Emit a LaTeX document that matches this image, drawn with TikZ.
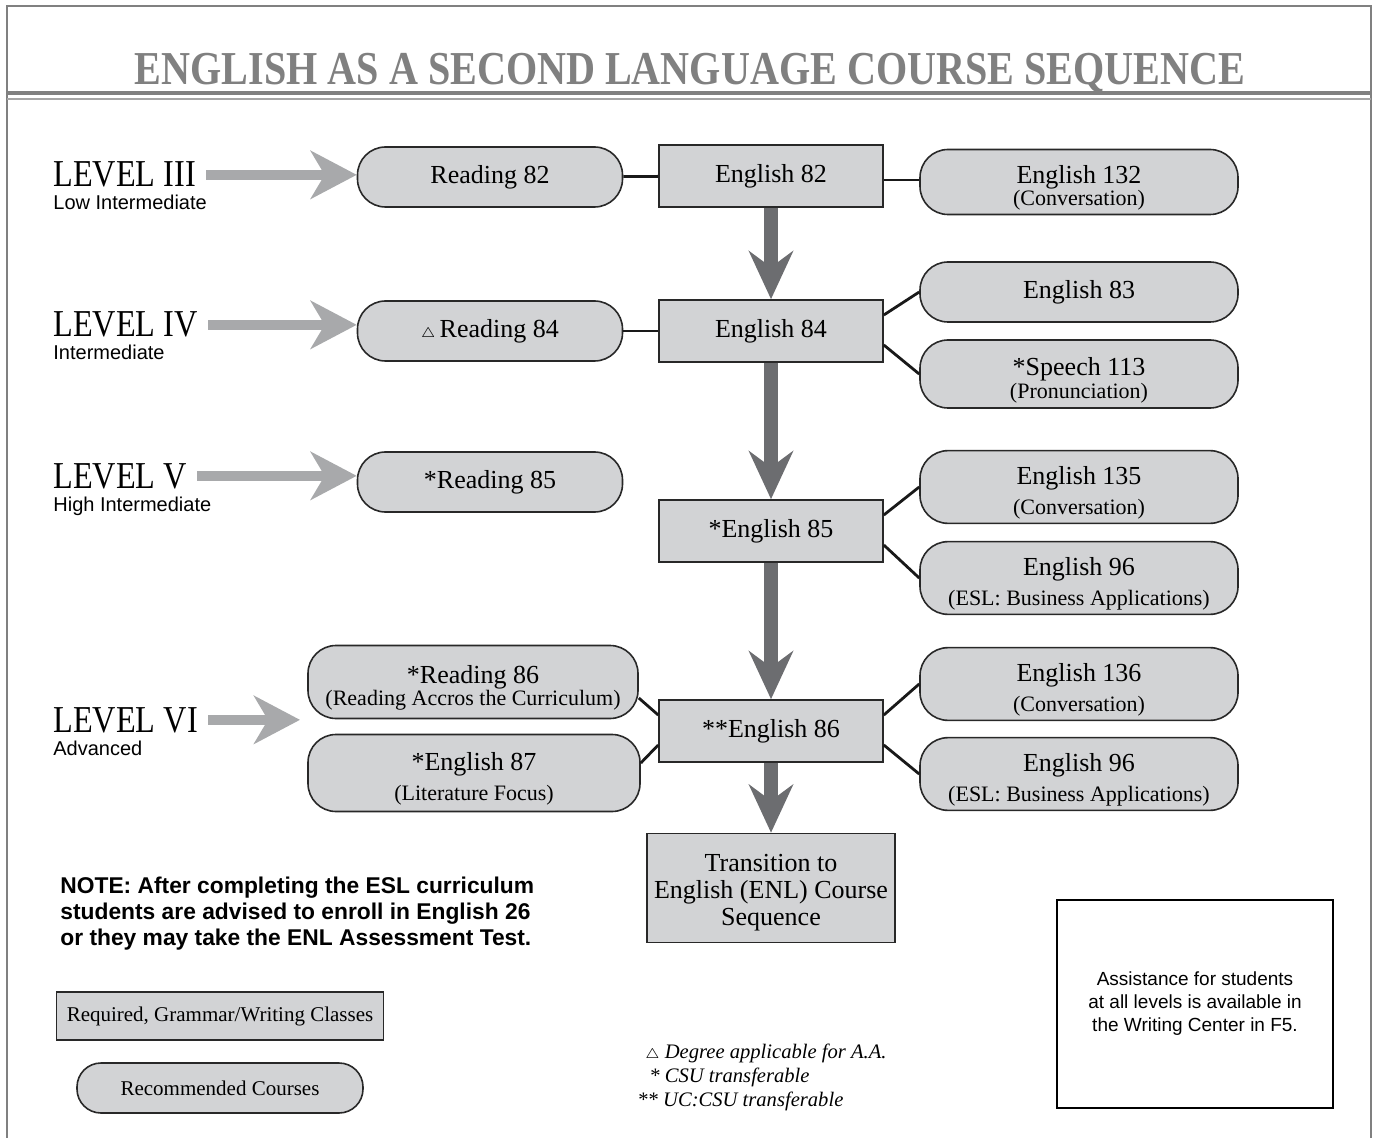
\documentclass[tikz,border=0pt]{standalone}
\usepackage{fontspec}
\setmainfont{Liberation Serif}
\setsansfont{Liberation Sans}
\newfontfamily\narrowserif[FakeStretch=0.85]{Liberation Serif}
\usepackage{tikz}
\usetikzlibrary{arrows.meta}
\usetikzlibrary{positioning}
\definecolor{boxfill}{RGB}{210,211,213}
\definecolor{boxline}{RGB}{40,40,40}
\definecolor{framegray}{RGB}{128,128,128}
\definecolor{rulegray}{RGB}{165,165,165}
\definecolor{flowgray}{RGB}{108,109,112}
\definecolor{levelgray}{RGB}{168,169,171}
\tikzstyle{required}=[rectangle, draw=boxline, fill=boxfill, line width=.8pt, align=center, inner sep=2pt, minimum width=112pt, minimum height=31pt, font=\fontsize{13}{15}\selectfont]
\tikzstyle{recommended}=[required, rounded corners=14pt, minimum width=159pt, minimum height=33pt]
\tikzstyle{levelname}=[inner sep=0pt, anchor=base west, font=\narrowserif\fontsize{19}{20}\selectfont]
\tikzstyle{levelsub}=[inner sep=0pt, anchor=base west, font=\sffamily\fontsize{10}{12}\selectfont]
\tikzstyle{levelarrow}=[levelgray, line width=5pt, shorten <=5pt, -{Stealth[length=23pt, width=24pt, inset=7pt]}]
\tikzstyle{flowarrow}=[flowgray, line width=7pt, -{Stealth[length=24pt, width=22pt, inset=8pt]}]
\tikzstyle{link}=[line width=1.4pt, black!90]
\newcommand{\coursenote}[1]{{\fontsize{11}{13}\selectfont #1}}
\newcommand{\degmark}{{\fontsize{7}{7}\selectfont$\triangle$}}
\newcommand{\lowertext}{\rule{0pt}{15pt}}

\begin{document}
\begin{tikzpicture}[x=0.5pt, y=-0.5pt]
    \useasboundingbox (0,0) rectangle (1374,1138);
    \draw[framegray, line width=1.1pt] (7,1138) -- (7,6) -- (1371,6) -- (1371,1138);
    \draw[framegray, line width=1.6pt] (7,93) -- (1371,93);
    \draw[rulegray, line width=.8pt] (7,99) -- (1371,99);
    \node[framegray, inner sep=0pt, anchor=base, font=\narrowserif\bfseries\fontsize{23.6}{25}\selectfont] (title) at (690,85) {ENGLISH AS A SECOND LANGUAGE COURSE SEQUENCE};

    \node[levelname] (lvlthree) at (53,187) {LEVEL III};
    \node[levelsub] (lvlthreesub) at (53,210) {Low Intermediate};
    \node[levelname] (lvlfour) at (53,337) {LEVEL IV};
    \node[levelsub] (lvlfoursub) at (53,360) {Intermediate};
    \node[levelname] (lvlfive) at (53,488) {LEVEL V};
    \node[levelsub] (lvlfivesub) at (53,511) {High Intermediate};
    \node[levelname] (lvlsix) at (53,732) {LEVEL VI};
    \node[levelsub] (lvlsixsub) at (53,755) {Advanced};
    \coordinate (lvlsixend) at (300,722);

    \node[recommended, minimum width=132.5pt, minimum height=30pt] (read82) at (490,177) {Reading 82};
    \node[recommended, minimum width=132.5pt, minimum height=30pt] (read84) at (490,331) {\degmark\,Reading 84};
    \node[recommended, minimum width=132.5pt, minimum height=30pt] (read85) at (490,482) {*Reading 85};
    \node[recommended, minimum width=165pt, minimum height=36.5pt] (read86) at (473,682) {\lowertext*Reading 86\\[-4pt]\coursenote{(Reading Accros the Curriculum)}};
    \node[recommended, minimum width=166pt, minimum height=38.5pt] (eng87) at (474,773) {\lowertext*English 87\\\coursenote{(Literature Focus)}};

    \node[required] (eng82) at (771,176) {English 82};
    \node[required] (eng84) at (771,331) {English 84};
    \node[required] (eng85) at (771,531) {*English 85};
    \node[required] (eng86) at (771,731) {**English 86};
    \node[required, minimum width=124pt, minimum height=54.5pt, font=\fontsize{13}{13.5}\selectfont] (transition) at (771,888) {\rule{0pt}{13pt}Transition to\\English (ENL) Course\\Sequence};

    \node[recommended, minimum height=32.5pt] (eng132) at (1079,182) {\lowertext English 132\\[-4pt]\coursenote{(Conversation)}};
    \node[recommended, minimum height=30pt] (eng83) at (1079,292) {English 83};
    \node[recommended, minimum height=34pt] (speech113) at (1079,374) {\lowertext*Speech 113\\[-3.5pt]\coursenote{(Pronunciation)}};
    \node[recommended, minimum height=34.5pt] (eng135) at (1079,487) {\lowertext English 135\\\coursenote{(Conversation)}};
    \node[recommended, minimum height=34.5pt] (eng96) at (1079,578) {\lowertext English 96\\\coursenote{(ESL: Business Applications)}};
    \node[recommended, minimum height=34pt] (eng136) at (1079,684) {\lowertext English 136\\\coursenote{(Conversation)}};
    \node[recommended, minimum height=36pt] (eng96b) at (1079,774) {\lowertext English 96\\\coursenote{(ESL: Business Applications)}};

    \draw[levelarrow] (lvlthree.east) -- (lvlthree.east -| read82.west);
    \draw[levelarrow] (lvlfour.east) -- (lvlfour.east -| read84.west);
    \draw[levelarrow] (lvlfive.east) -- (lvlfive.east -| read85.west);
    \draw[levelarrow] (lvlsix.east) -- (lvlsix.east -| lvlsixend);

    \draw[flowarrow] (eng82) -- (eng84);
    \draw[flowarrow] (eng84) -- (eng85);
    \draw[flowarrow] (eng85) -- (eng86);
    \draw[flowarrow] (eng86) -- (transition);

    \draw[link] (read82) -- (eng82);
    \draw[link] ([yshift=-2pt]eng82.east) -- ([yshift=-2pt]eng82.east -| eng132.west);
    \draw[link] (read84) -- (eng84);
    \draw[link] ([yshift=8pt]eng84.east) -- (eng83.west);
    \draw[link] ([yshift=-7pt]eng84.east) -- (speech113.west);
    \draw[link] ([yshift=8pt]eng85.east) -- (eng135.west);
    \draw[link] ([yshift=-7pt]eng85.east) -- (eng96.west);
    \draw[link] ([yshift=8pt]eng86.east) -- (eng136.west);
    \draw[link] ([yshift=-7pt]eng86.east) -- (eng96b.west);
    \draw[link] ([yshift=8pt]eng86.west) -- ([yshift=-8pt]read86.east);
    \draw[link] ([yshift=-7pt]eng86.west) -- ([yshift=5pt]eng87.east);

    \node[anchor=north west, align=left, inner sep=0pt, font=\sffamily\bfseries\fontsize{11.4}{13}\selectfont] (note) at (60,877) {NOTE: After completing the ESL curriculum\\students are advised to enroll in English 26\\or they may take the ENL Assessment Test.};

    \node[required, minimum width=163.5pt, minimum height=24pt, font=\fontsize{10.5}{12}\selectfont] (reqkey) at (220,1016) {Required, Grammar/Writing Classes};
    \node[recommended, rounded corners=12pt, minimum width=143pt, minimum height=25pt, font=\fontsize{10.5}{12}\selectfont] (reckey) at (220,1088) {Recommended Courses};

    \node[anchor=north west, align=left, inner sep=0pt, font=\itshape\fontsize{10.3}{12}\selectfont] (marks) at (637,1044) {\hspace*{4pt}\degmark\ Degree applicable for A.A.\\\hspace*{6pt}* CSU transferable\\** UC:CSU transferable};

    \node[draw=black, line width=.6pt, minimum width=138pt, minimum height=104pt, align=center, font=\sffamily\fontsize{9.5}{11.5}\selectfont] (writing) at (1195,1004) {Assistance for students\\at all levels is available in\\the Writing Center in F5.};
\end{tikzpicture}
\end{document}
